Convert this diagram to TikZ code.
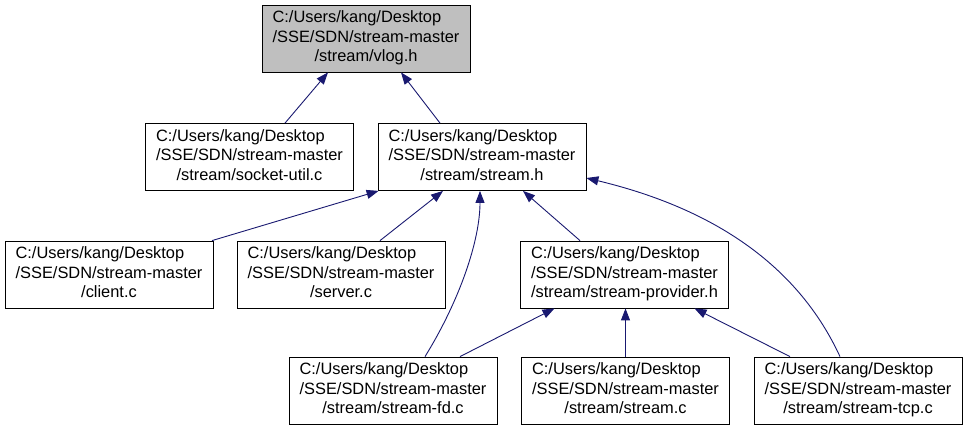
\documentclass[tikz,border=0pt]{standalone}
\usepackage{fontspec}
\setmainfont{Liberation Sans}
\usetikzlibrary{arrows.meta}
\definecolor{edgeblue}{HTML}{191970}
\definecolor{boxgray}{HTML}{BFBFBF}
\newcommand{\flabel}[1]{\begin{tabular}{@{}l@{}}C:/Users/kang/Desktop\\/SSE/SDN/stream-master\\\multicolumn{1}{@{}c@{}}{#1}\end{tabular}}
\tikzset{
  filebox/.style={draw=black, line width=0.8bp, fill=white, minimum width=208bp, minimum height=67bp,
    inner sep=0pt, font=\fontsize{16.4bp}{19.5bp}\selectfont},
  curfile/.style={filebox, fill=boxgray},
  edge/.style={draw=edgeblue, line width=0.9bp, -{Triangle[length=12bp,width=9bp]}}
}
\begin{document}
\begin{tikzpicture}[x=1bp,y=-1bp]
\useasboundingbox (0,0) rectangle (967,432);
\renewcommand{\arraystretch}{1}
\node[curfile] (vlog) at (366,38.5) {\flabel{/stream/vlog.h}};
\node[filebox] (sock) at (249.5,157) {\flabel{/stream/socket-util.c}};
\node[filebox] (sh) at (482,157) {\flabel{/stream/stream.h}};
\node[filebox] (client) at (109,274.5) {\begin{tabular}{@{}l@{}}C:/Users/kang/Desktop\\/SSE/SDN/stream-master\\\multicolumn{1}{@{}c@{}}{/client.c}\end{tabular}};
\node[filebox] (server) at (341,274.5) {\begin{tabular}{@{}l@{}}C:/Users/kang/Desktop\\/SSE/SDN/stream-master\\\multicolumn{1}{@{}c@{}}{/server.c}\end{tabular}};
\node[filebox] (prov) at (624.5,274.5) {\flabel{/stream/stream-provider.h}};
\node[filebox] (fd) at (393,390.5) {\flabel{/stream/stream-fd.c}};
\node[filebox] (sc) at (625.5,390.5) {\flabel{/stream/stream.c}};
\node[filebox] (tcp) at (858,390.5) {\flabel{/stream/stream-tcp.c}};
% edges
\draw[edge] ([xshift=35.5bp]sock.north) -- ([xshift=-38bp]vlog.south);
\draw[edge] ([xshift=-42bp]sh.north) -- ([xshift=35bp]vlog.south);
\draw[edge] ([xshift=103bp]client.north) -- ([xshift=1bp]sh.south west);
\draw[edge] ([xshift=39bp]server.north) -- ([xshift=-39bp]sh.south);
\draw[edge] ([xshift=32bp]fd.north) .. controls (460,300) and (480,240) .. ([xshift=-2bp]sh.south);
\draw[edge] ([xshift=-44.5bp]prov.north) -- ([xshift=41bp]sh.south);
\draw[edge] ([xshift=-18bp]tcp.north) .. controls (800,270) and (720,210) .. ([yshift=-21bp]sh.east);
\draw[edge] ([xshift=67bp]fd.north) -- ([xshift=-70bp]prov.south);
\draw[edge] (sc.north) -- (sc.north |- prov.south);
\draw[edge] ([xshift=-68bp]tcp.north) -- ([xshift=70bp]prov.south);
\end{tikzpicture}
\end{document}
